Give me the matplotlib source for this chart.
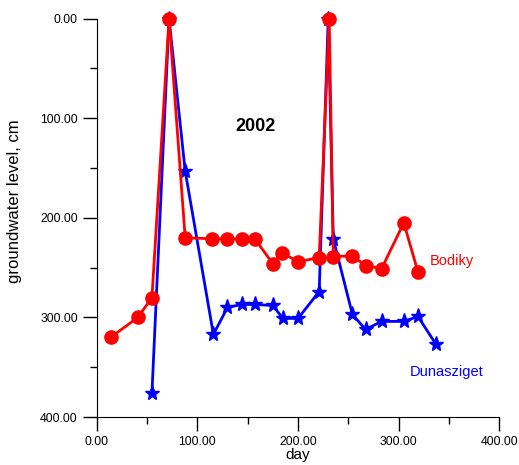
import matplotlib
matplotlib.use("Agg")
import matplotlib.pyplot as plt
from matplotlib.ticker import MultipleLocator, FormatStrFormatter

plt.rcParams['font.family'] = ['Liberation Sans', 'DejaVu Sans']

# Bodiky
bod_day = [14, 41, 55, 72, 88, 115, 130, 144, 157, 175, 184, 200, 221, 231, 235, 254, 267, 283, 305, 319]
bod_lvl = [320, 300, 280, 0, 220, 221, 221, 221, 221, 246, 235, 244, 240, 0, 239, 238, 248, 251, 205, 254]

# Dunasziget
dun_day = [55, 72, 88, 116, 130, 144, 157, 175, 185, 200, 221, 230, 235, 254, 267, 283, 305, 319, 337]
dun_lvl = [376, 0, 153, 317, 290, 287, 287, 288, 301, 301, 274, 0, 221, 297, 312, 304, 304, 299, 327]

fig = plt.figure(figsize=(5.19, 4.65), dpi=100)
ax = fig.add_axes([0.186, 0.1032, 0.7764, 0.8566])

ax.plot(dun_day, dun_lvl, color="blue", lw=2.0, marker="*", ms=11, clip_on=False)
ax.plot(bod_day, bod_lvl, color="red", lw=2.0, marker="o", ms=9.5, clip_on=False)

ax.set_xlim(0, 400)
ax.set_ylim(400, 0)
ax.spines["top"].set_visible(False)
ax.spines["right"].set_visible(False)

ax.xaxis.set_major_locator(MultipleLocator(100))
ax.xaxis.set_minor_locator(MultipleLocator(50))
ax.yaxis.set_major_locator(MultipleLocator(100))
ax.yaxis.set_minor_locator(MultipleLocator(50))
ax.xaxis.set_major_formatter(FormatStrFormatter("%.2f"))
ax.yaxis.set_major_formatter(FormatStrFormatter("%.2f"))
ax.tick_params(which="major", length=10, width=1, pad=3.5, labelsize=8.8)
ax.tick_params(which="minor", length=5, width=1)

ax.set_xlabel("day", fontsize=11, labelpad=0)
ax.set_ylabel("groundwater level, cm", fontsize=12, labelpad=4)
ax.yaxis.set_label_coords(-0.185, 0.542)

ax.text(158, 108, "2002", fontsize=13, fontweight="bold", ha="center", va="center")
ax.text(353, 243, "Bodiky", fontsize=10.5, color="red", ha="center", va="center")
ax.text(348, 355, "Dunasziget", fontsize=10.5, color="blue", ha="center", va="center")

fig.savefig("out.png", dpi=100)
